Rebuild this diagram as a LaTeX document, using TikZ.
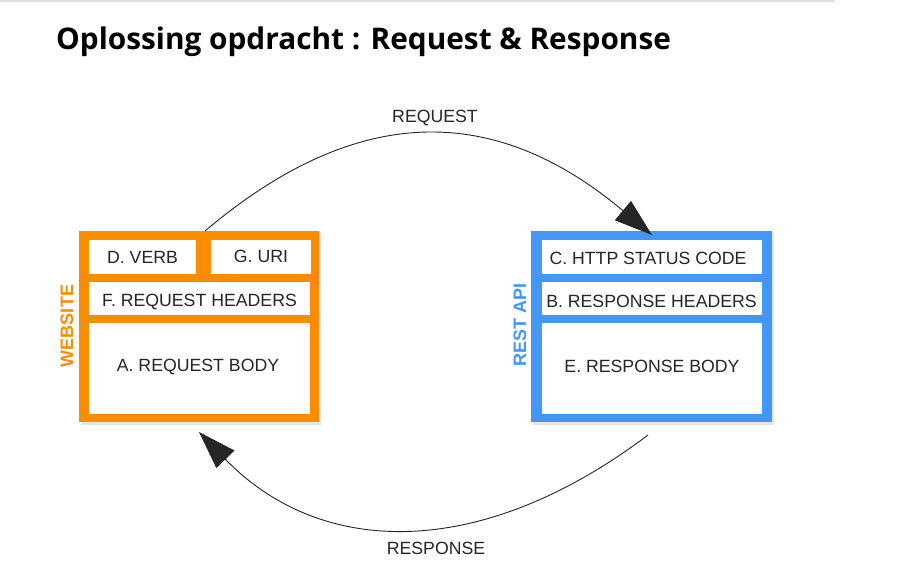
\documentclass[tikz,border=0pt]{standalone}
\usepackage{fontspec}
\setmainfont{Liberation Sans}
\newfontfamily\titlefont{Open Sans}
\usetikzlibrary{arrows.meta,calc}
\definecolor{orng}{HTML}{FB8C00}
\definecolor{blu}{HTML}{4297F7}
\definecolor{txt}{HTML}{262626}
\tikzset{
  outer/.style={inner sep=0pt, outer sep=0pt},
  inbox/.style={fill=white, inner sep=0pt, outer sep=0pt},
  lbl/.style={anchor=base, inner sep=0pt, text=txt, font=\fontsize{17.7}{20}\selectfont},
  side/.style={rotate=90, inner sep=0pt, font=\fontsize{18}{20}\selectfont\bfseries},
  conn/.style={draw=black!85, line width=0.9pt, -{Triangle[length=38pt,width=25pt]}}
}
\begin{document}
\begin{tikzpicture}[x=1pt,y=-1pt]
\useasboundingbox (0,0) rectangle (902,569);
\fill[white] (0,0) rectangle (902,569);
\draw[black!12, line width=2pt] (0,1.5) -- (835,1.5);
\node[anchor=base west, inner sep=0pt, font=\titlefont\bfseries\fontsize{29.8}{32}\selectfont] (title) at (56,50) {Oplossing opdracht : Request \& Response};

% shadows
\fill[black, opacity=0.10] (81,233) rectangle (321,425);
\fill[black, opacity=0.10] (533,233) rectangle (774,425);

% left box
\node[outer, fill=orng, minimum width=240pt, minimum height=191pt] (web) at (199,326.5) {};
\node[inbox, minimum width=107pt, minimum height=34pt] (verb) at (142.5,257) {};
\node[inbox, minimum width=100pt, minimum height=34pt] (uri) at (261,257) {};
\node[inbox, minimum width=221pt, minimum height=33pt] (reqh) at (199.5,298.5) {};
\node[inbox, minimum width=221pt, minimum height=91pt] (reqb) at (199.5,368.5) {};
\node[lbl] (tverb) at (142.5,264) {D. VERB};
\node[lbl] (turi) at (261,263) {G. URI};
\node[lbl] (treqh) at (199.5,307) {F. REQUEST HEADERS};
\node[lbl] (treqb) at (198,371) {A. REQUEST BODY};
\node[side, text=orng] (website) at (67,326) {WEBSITE};

% right box
\node[outer, fill=blu, minimum width=241pt, minimum height=191pt] (api) at (651.5,326.5) {};
\node[inbox, minimum width=220pt, minimum height=34pt] (stat) at (652,257) {};
\node[inbox, minimum width=220pt, minimum height=33pt] (resh) at (652,298.5) {};
\node[inbox, minimum width=220pt, minimum height=91pt] (resb) at (652,368.5) {};
\node[lbl] (tstat) at (648,265) {C. HTTP STATUS CODE};
\node[lbl] (tresh) at (651.5,308) {B. RESPONSE HEADERS};
\node[lbl] (tresb) at (652,372) {E. RESPONSE BODY};
\node[side, text=blu] (restapi) at (520,325) {REST API};

% connectors
\coordinate (reqstart) at ([xshift=126pt]web.north west);
\coordinate (reqend) at ([xshift=121pt,yshift=-4pt]api.north west);
\coordinate (resstart) at ([xshift=117pt,yshift=-13pt]api.south west);
\coordinate (resend) at ([xshift=120pt,yshift=-10pt]web.south west);
\draw[conn] (reqstart) .. controls (360,100) and (497,105) .. (reqend);
\draw[conn] (resstart) .. controls (481,561) and (321,558) .. (resend);
\node[lbl] (lreq) at (435,123) {REQUEST};
\node[lbl] (lres) at (436,554) {RESPONSE};
\end{tikzpicture}
\end{document}
